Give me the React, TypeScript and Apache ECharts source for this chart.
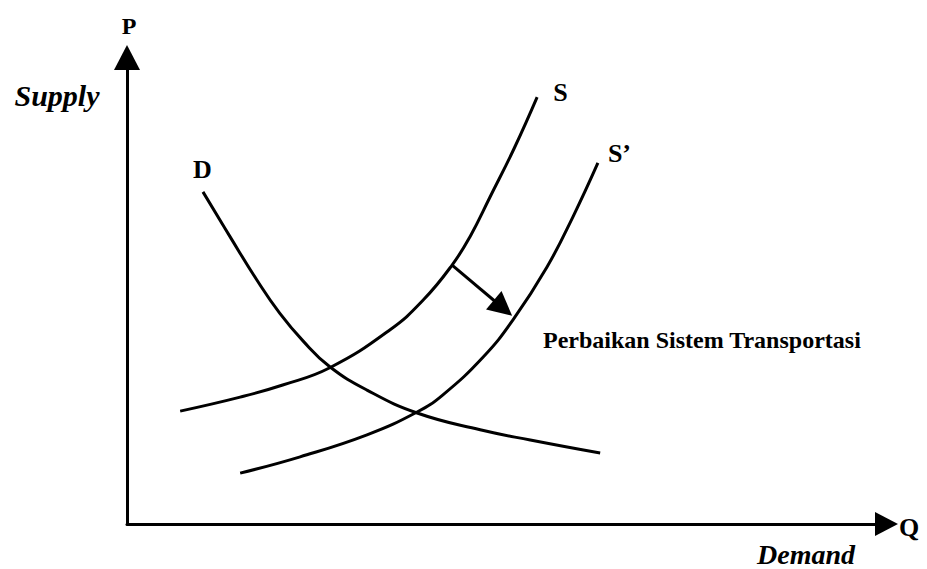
import React, { useEffect, useRef } from "react";
import * as echarts from "echarts";

// Demand curve D (ordered from lower-right to upper-left so its end label sits at the top)
const demandQ = [62.3, 53.1, 46.5, 38.2, 31.6, 26.7, 23.2, 20.1, 17.1, 13.6, 10.0];
const demandP = [15.2, 18.0, 20.2, 23.8, 28.7, 33.7, 39.2, 45.2, 52.3, 61.5, 71.2];

// Supply curve S
const supplyQ = [7.0, 14.9, 20.5, 26.7, 34.6, 39.0, 42.8, 45.2, 47.8, 51.0, 54.0];
const supplyP = [24.2, 27.2, 29.8, 33.5, 41.6, 48.0, 55.5, 61.7, 70.1, 80.6, 91.5];

// Shifted supply curve S'
const supply2Q = [14.9, 22.8, 31.6, 38.2, 41.6, 46.9, 50.8, 55.3, 58.7, 62.0];
const supply2P = [10.9, 14.4, 19.1, 24.0, 27.7, 35.8, 43.7, 55.1, 65.8, 77.4];

// Shift arrow (from S towards S')
const shiftFrom = [42.8, 55.5];
const shiftTo = [49.5, 46.3];

const curveNames = ["D", "S", "S\u2019"];
const axisNames = { p: "P", q: "Q", supply: "Supply", demand: "Demand" };
const note = "Perbaikan Sistem Transportasi";

const SERIF = "'Liberation Serif', 'DejaVu Serif', 'Times New Roman', serif";

const zip = (xs: number[], ys: number[]) => xs.map((x, i) => [x, ys[i]]);

export default function App() {
  const ref = useRef<HTMLDivElement>(null);
  useEffect(() => {
    if (!ref.current) return;
    const chart = echarts.init(ref.current, undefined, { renderer: "svg" });
    const lineStyle = { color: "#000", width: 3 };
    const labelFont = { fontFamily: SERIF, fontWeight: "bold" as const, fontSize: 26, color: "#000" };
    const curve = { type: "line", smooth: 0.45, symbol: "none", lineStyle };
    chart.setOption({
      animation: false,
      backgroundColor: "#fff",
      grid: { left: 127, right: 40.5, top: 57.5, bottom: 45 },
      xAxis: {
        type: "value",
        min: 0,
        max: 100,
        axisLine: {
          show: true,
          symbol: ["none", "triangle"],
          symbolSize: [24, 23],
          lineStyle: { color: "#000", width: 3 },
        },
        axisTick: { show: false },
        axisLabel: { show: false },
        splitLine: { show: false },
      },
      yAxis: {
        type: "value",
        min: 0,
        max: 100,
        axisLine: {
          show: true,
          symbol: ["none", "triangle"],
          symbolSize: [26, 25],
          lineStyle: { color: "#000", width: 3 },
        },
        axisTick: { show: false },
        axisLabel: { show: false },
        splitLine: { show: false },
      },
      series: [
        {
          ...curve,
          name: curveNames[0],
          data: zip(demandQ, demandP),
          endLabel: { show: true, formatter: curveNames[0], ...labelFont, offset: [-18, -22] },
        },
        {
          ...curve,
          name: curveNames[1],
          data: zip(supplyQ, supplyP),
          endLabel: { show: true, formatter: curveNames[1], ...labelFont, offset: [8, -5] },
          markLine: {
            silent: true,
            symbol: ["none", "triangle"],
            symbolSize: 24,
            label: { show: false },
            lineStyle: { color: "#000", width: 3, type: "solid" },
            data: [[{ coord: shiftFrom }, { coord: shiftTo }]],
          },
        },
        {
          ...curve,
          name: curveNames[2],
          data: zip(supply2Q, supply2P),
          endLabel: { show: true, formatter: curveNames[2], ...labelFont, offset: [2, -9] },
        },
      ],
      graphic: [
        {
          type: "text",
          x: 129,
          y: 26,
          style: { text: axisNames.p, font: `bold 24px ${SERIF}`, fill: "#000", align: "center", verticalAlign: "middle" },
        },
        {
          type: "text",
          x: 899,
          y: 527,
          style: { text: axisNames.q, font: `bold 26px ${SERIF}`, fill: "#000", align: "left", verticalAlign: "middle" },
        },
        {
          type: "text",
          x: 57,
          y: 95,
          style: { text: axisNames.supply, font: `italic bold 30px ${SERIF}`, fill: "#000", align: "center", verticalAlign: "middle" },
        },
        {
          type: "text",
          x: 806,
          y: 554,
          style: { text: axisNames.demand, font: `italic bold 28px ${SERIF}`, fill: "#000", align: "center", verticalAlign: "middle" },
        },
        {
          type: "text",
          x: 543,
          y: 340,
          style: { text: note, font: `bold 24px ${SERIF}`, fill: "#000", align: "left", verticalAlign: "middle" },
        },
      ],
    });
    return () => chart.dispose();
  }, []);
  return (
    <div
      ref={ref}
      style={{ position: "fixed", left: 0, top: 0, width: 927, height: 569, background: "#fff" }}
    />
  );
}
